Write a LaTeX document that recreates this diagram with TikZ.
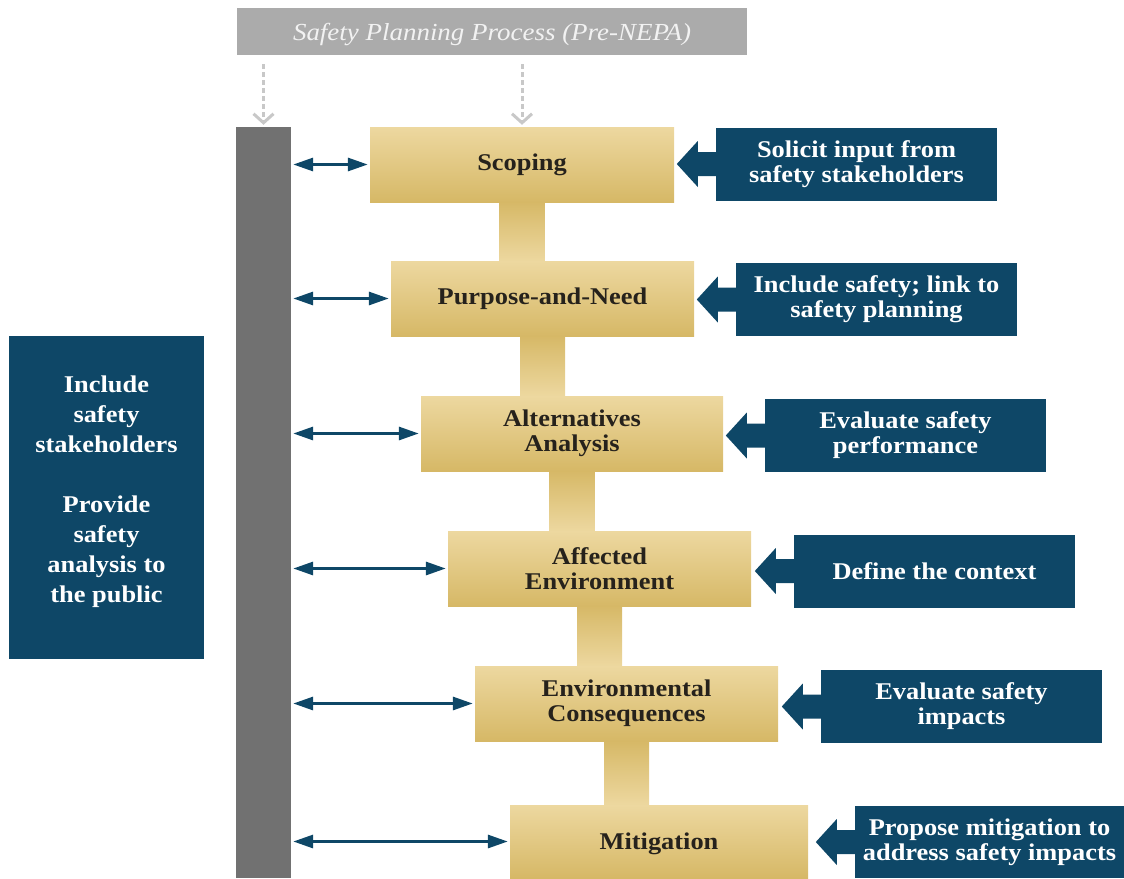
\documentclass[tikz,border=0pt]{standalone}
\usepackage{fontspec}
\setmainfont[FakeStretch=1.1]{Liberation Serif}
\usetikzlibrary{arrows.meta,calc}
\definecolor{navy}{RGB}{14,71,103}
\definecolor{goldtop}{RGB}{237,216,160}
\definecolor{goldbot}{RGB}{214,184,102}
\definecolor{barg}{RGB}{113,113,113}
\definecolor{bang}{RGB}{171,171,171}
\definecolor{dashg}{RGB}{200,200,200}
\definecolor{ink}{RGB}{38,34,28}
\pgfdeclarelayer{bg}
\pgfsetlayers{bg,main}
\begin{document}
\begin{tikzpicture}[x=1pt,y=-1pt,
  goldbox/.style={rectangle, inner sep=0pt, top color=goldtop, bottom color=goldbot,
    text=ink, font=\bfseries\fontsize{24}{25}\selectfont, align=center},
  bluebox/.style={rectangle, inner sep=0pt, fill=navy, text=white,
    font=\bfseries\fontsize{24}{25}\selectfont, align=center,
    minimum width=281pt, minimum height=73pt},
  stemfill/.style={top color=goldbot, bottom color=goldtop},
  dbl/.style={navy, line width=3pt,
    {Triangle[length=20pt 0,width=13pt 0]}-{Triangle[length=20pt 0,width=13pt 0]},
    shorten <=2pt, shorten >=2pt},
  dsh/.style={dashg, line width=3pt, dash pattern=on 5pt off 3pt,
    -{Straight Barb[length=9pt 0,width=20pt 0]}},
  fatarrow/.style={fill=navy}
]
\useasboundingbox (0,0) rectangle (1124,878);

% banner and bar
\node[rectangle, inner sep=0pt, fill=bang, minimum width=510pt, minimum height=47pt,
  text={rgb,255:red,242;green,242;blue,242}, font=\itshape\fontsize{24.5}{25}\selectfont,
  text depth=0pt]
  (pre) at (492,31.5) {Safety Planning Process (Pre-NEPA)};
\node[rectangle, inner sep=0pt, fill=barg, minimum width=55pt, minimum height=751pt]
  (bar) at (263.5,502.5) {};

% left box
\node[rectangle, inner sep=0pt, fill=navy, text=white, minimum width=195pt, minimum height=323pt,
  font=\bfseries\fontsize{24}{30}\selectfont, align=center, text depth=17pt]
  (left) at (106.5,497.5) {Include\\safety\\stakeholders\\[30pt]Provide\\safety\\analysis to\\the public};

% gold process boxes
\node[goldbox, minimum width=304pt, minimum height=75pt] (s1) at (522,164.5) {Scoping};
\node[goldbox, minimum width=303pt, minimum height=75pt] (s2) at (542.5,298.5) {Purpose-and-Need};
\node[goldbox, minimum width=302pt, minimum height=75pt] (s3) at (572,433.5) {Alternatives\\Analysis};
\node[goldbox, minimum width=303pt, minimum height=75pt] (s4) at (599.5,568.5) {Affected\\Environment};
\node[goldbox, minimum width=303pt, minimum height=75pt] (s5) at (626.5,703.5) {Environmental\\Consequences};
\node[goldbox, minimum width=298pt, minimum height=73pt, text depth=0pt] (s6) at (659,841.5) {Mitigation};

% stems
\begin{pgfonlayer}{bg}
\foreach \a/\b in {s1/s2,s2/s3,s3/s4,s4/s5,s5/s6}{
  \fill[stemfill] ($(\a.south)+(-22.5,-1)$) rectangle ($(\a.south |- \b.north)+(22.5,1)$);
}
\end{pgfonlayer}

% right boxes
\node[bluebox] (r1) at (856.5,164) {Solicit input from\\safety stakeholders};
\node[bluebox] (r2) at (876.5,299.5) {Include safety; link to\\safety planning};
\node[bluebox] (r3) at (905.5,435.5) {Evaluate safety\\performance};
\node[bluebox] (r4) at (934.5,571) {Define the context};
\node[bluebox] (r5) at (961.5,706.5) {Evaluate safety\\impacts};
\node[bluebox, minimum width=269pt, minimum height=72pt] (r6) at (989.5,842) {Propose mitigation to\\address safety impacts};

% fat arrows from right boxes toward process boxes
\foreach \r in {r1,r2,r3,r4,r5,r6}{
  \fill[fatarrow] (\r.west) ++(0.5,-12) -- ++(-18.5,0) -- ++(0,-11) -- ++(-21,23)
    -- ++(21,23) -- ++(0,-11) -- ++(18.5,0) -- cycle;
}

% double arrows from bar to process boxes
\foreach \s in {s1,s2,s3,s4,s5,s6}{
  \draw[dbl] (bar.east |- \s.west) -- (\s.west);
}

% dashed arrows from banner
\draw[dsh, shorten <=9pt, shorten >=2pt] (pre.south -| bar.north) -- (bar.north);
\draw[dsh, shorten <=9pt, shorten >=2pt] (pre.south -| s1.north) -- (s1.north);
\end{tikzpicture}
\end{document}
